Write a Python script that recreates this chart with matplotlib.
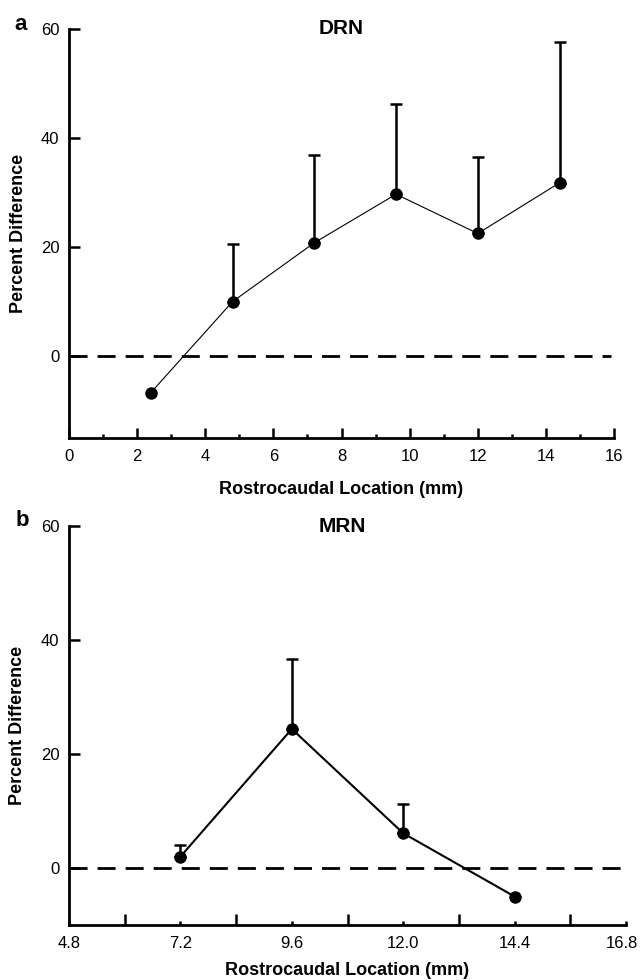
import numpy as np
import matplotlib
matplotlib.use('Agg')
import matplotlib.pyplot as plt
from matplotlib.transforms import ScaledTranslation

plt.rcParams['font.family'] = ['Liberation Sans', 'DejaVu Sans']

# DRN panel (a)
drn_x = [2.4, 4.8, 7.2, 9.6, 12.0, 14.4]
drn_y = [-6.7, 10.0, 20.8, 29.7, 22.5, 31.8]
drn_top = [np.nan, 20.6, 36.9, 46.3, 36.6, 57.6]   # upper end of error bar

# MRN panel (b)
mrn_x = [7.2, 9.6, 12.0, 14.4]
mrn_y = [2.0, 24.4, 6.1, -5.0]
mrn_top = [4.0, 36.7, 11.2, np.nan]

drn_xticks = [0, 2, 4, 6, 8, 10, 12, 14, 16]
drn_xminor = [1, 3, 5, 7, 9, 11, 13, 15]
mrn_xticks = [4.8, 7.2, 9.6, 12.0, 14.4, 16.8]
mrn_xticklabels = ['4.8', '7.2', '9.6', '12.0', '14.4', '16.8']
mrn_xminor = [6.0, 8.4, 10.8, 13.2, 15.6]
yticks = [0, 20, 40, 60]


def draw_panel(ax, x, y, top, line_w):
    x = np.array(x); y = np.array(y); top = np.array(top)
    m = ~np.isnan(top)
    ax.errorbar(x[m], y[m], yerr=[np.zeros(m.sum()), top[m] - y[m]],
                fmt='none', ecolor='black', elinewidth=1.8, capsize=4,
                capthick=1.8, zorder=2)
    ax.plot(x, y, '-', color='black', lw=line_w, zorder=3)
    ax.plot(x, y, 'o', color='black', ms=8, zorder=4)
    ax.axhline(0, color='black', lw=2, linestyle=(0, (6.5, 3.6)),
               xmax=0.995, zorder=1)
    for s in ['top', 'right']:
        ax.spines[s].set_visible(False)
    for s in ['left', 'bottom']:
        ax.spines[s].set_linewidth(2)
    ax.set_yticks(yticks)
    ax.tick_params(axis='y', direction='in', length=8, width=1.8,
                   labelsize=12, pad=7)
    ax.set_ylabel('Percent Difference', fontsize=13, fontweight='bold')
    ax.yaxis.set_label_coords(-0.093, 0.5)
    ax.yaxis.label.set_va('center')
    ax.set_xlabel('Rostrocaudal Location (mm)', fontsize=13,
                  fontweight='bold')
    ax.xaxis.label.set_va('center')


fig = plt.figure(figsize=(6.42, 9.8), dpi=100)

ax1 = fig.add_axes([0.1075, 0.5531, 0.849, 0.4173])
draw_panel(ax1, drn_x, drn_y, drn_top, 0.8)
ax1.set_xlim(0, 16)
ax1.set_ylim(-15, 60)
ax1.set_xticks(drn_xticks)
ax1.set_xticks(drn_xminor, minor=True)
ax1.tick_params(axis='x', which='major', direction='in', length=7.5,
                width=1.8, labelsize=12, pad=8)
ax1.tick_params(axis='x', which='minor', direction='in', length=3,
                width=1.8)
ax1.xaxis.set_label_coords(0.5, -0.125)

ax2 = fig.add_axes([0.1075, 0.0561, 0.8676, 0.4071])
draw_panel(ax2, mrn_x, mrn_y, mrn_top, 1.5)
ax2.set_xlim(4.8, 16.8)
ax2.set_ylim(-10, 60)
ax2.set_xticks(mrn_xticks)
ax2.set_xticklabels(mrn_xticklabels)
ax2.set_xticks(mrn_xminor, minor=True)
ax2.tick_params(axis='x', which='major', direction='in', length=3,
                width=1.8, labelsize=12, pad=8)
ax2.tick_params(axis='x', which='minor', direction='in', length=8,
                width=1.8)
ax2.xaxis.set_label_coords(0.5, -0.115)
# last label sits a little left of its tick so it stays inside the figure
last = ax2.get_xticklabels()[-1]
last.set_transform(last.get_transform() +
                   ScaledTranslation(-4 / 100, 0, fig.dpi_scale_trans))

fig.text(341 / 642, 1 - 28 / 980, 'DRN', ha='center', va='center',
         fontsize=15, fontweight='bold')
fig.text(342 / 642, 1 - 527 / 980, 'MRN', ha='center', va='center',
         fontsize=15, fontweight='bold')
fig.text(21 / 642, 1 - 25 / 980, 'a', ha='center', va='center',
         fontsize=16, fontweight='bold')
fig.text(22 / 642, 1 - 520 / 980, 'b', ha='center', va='center',
         fontsize=16, fontweight='bold')

fig.savefig('out.png', dpi=100)
